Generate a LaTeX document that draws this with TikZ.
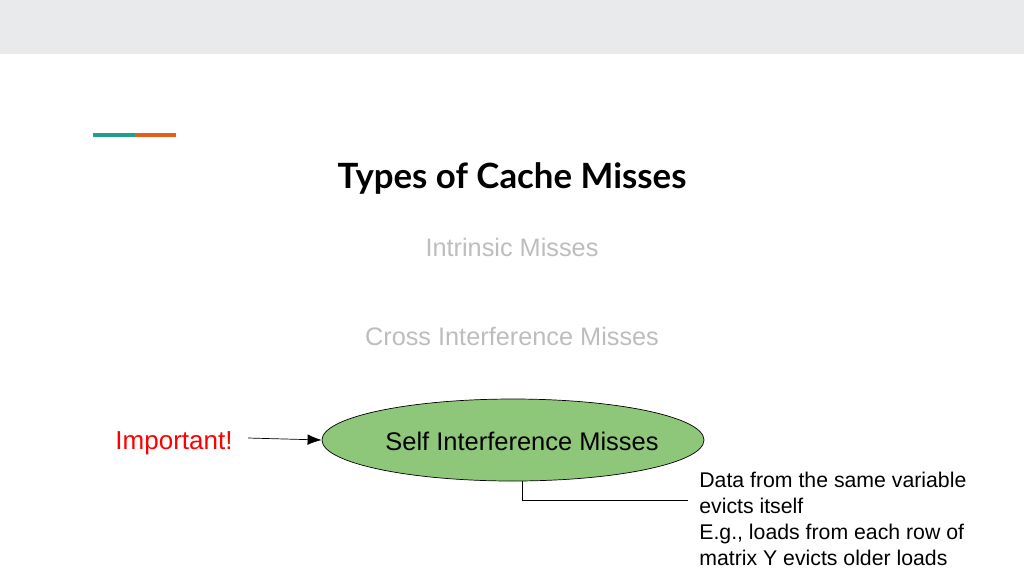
\documentclass[tikz,border=0pt]{standalone}
\usepackage{fontspec}
\setmainfont{Liberation Sans}
\newfontfamily\titlefont{Lato}
\usetikzlibrary{positioning,shapes.geometric,arrows.meta}
\definecolor{bandgray}{HTML}{E9EAEB}
\definecolor{teal}{HTML}{1FA08A}
\definecolor{rust}{HTML}{E2601B}
\definecolor{fadegray}{HTML}{BDBDBD}
\definecolor{missgreen}{HTML}{8FC77A}
\tikzset{
  faded/.style={text=fadegray,font=\fontsize{14.4}{17}\selectfont},
  note/.style={align=left,anchor=north west,font=\fontsize{12.1}{14.7}\selectfont,inner sep=0pt}
}
\begin{document}
\begin{tikzpicture}[x=0.02cm,y=-0.02cm]
  \useasboundingbox (0,0) rectangle (1024,576);
  \fill[bandgray] (0,0) rectangle (1024,54);
  \draw[teal,line width=0.08cm] (93,135) -- (135,135);
  \draw[rust,line width=0.08cm] (135,135) -- (176,135);
  \node (title) at (512,178) {\titlefont\bfseries\fontsize{19.8}{24}\selectfont Types of Cache Misses};
  \node[faded] (intrinsic) at (512,247) {Intrinsic Misses};
  \node[faded] (cross) at (512,336) {Cross Interference Misses};
  \node[ellipse,draw,fill=missgreen,minimum width=382*0.02cm,minimum height=82*0.02cm] (self) at (513,440) {};
  \node[font=\fontsize{14.5}{17}\selectfont] (selflbl) at (522,441) {Self Interference Misses};
  \node[text=red,font=\fontsize{14.8}{17}\selectfont] (imp) at (174,443) {Important!};
  \coordinate (arrstart) at (248,438);
  \draw[-{Latex[length=8pt,width=6pt]}] (arrstart) -- (self.west);
  \node[note] (note) at (699,472) {Data from the same variable\\evicts itself\\E.g., loads from each row of\\matrix Y evicts older loads};
  \coordinate (bend) at (522,500);
  \coordinate (noteend) at (688,500);
  \draw (self.south -| bend) -- (bend) -- (noteend);
\end{tikzpicture}
\end{document}
